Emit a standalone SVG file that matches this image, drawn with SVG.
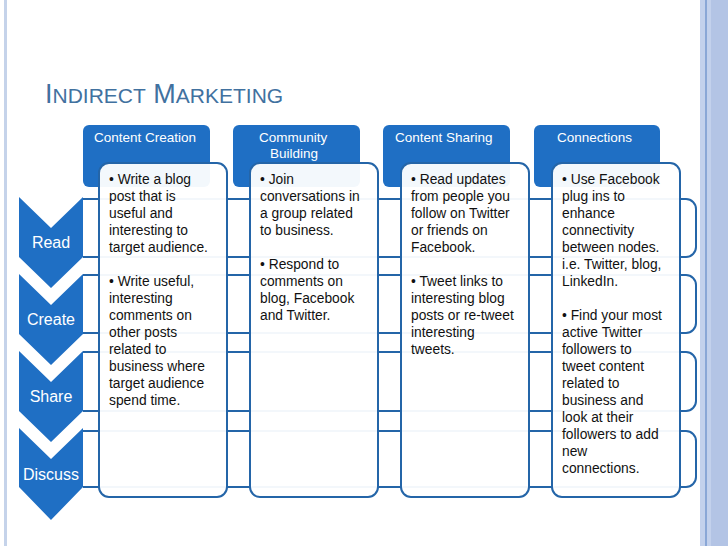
<svg xmlns="http://www.w3.org/2000/svg" width="728" height="546" viewBox="0 0 728 546">
<style>
.hdr{fill:#1f6fc4}
.ht{font-family:"Liberation Sans",Arial,sans-serif;font-size:13.5px;fill:#fff}
.row{fill:#fff;stroke:#2465a8;stroke-width:2}
.box{fill:#fff;stroke:#2465a8;stroke-width:2;fill-opacity:0.95}
.t{font-family:"Liberation Sans",Arial,sans-serif;font-size:13.8px;fill:#111}
.chev{fill:#1f6fc4}
.ct{font-family:"Liberation Sans",Arial,sans-serif;font-size:16px;fill:#fff;text-anchor:middle}
</style>
<rect width="728" height="546" fill="#fff"/>
<rect x="4" y="0" width="3" height="546" fill="#c5d3ea"/>
<rect x="700" y="0" width="28" height="546" fill="#c3d1ec"/>
<rect x="705" y="0" width="2" height="546" fill="#8aa7d6"/>
<rect x="711" y="0" width="17" height="546" fill="#b3c4e5"/>
<text x="45" y="103" font-family="'Liberation Sans',Arial,sans-serif" fill="#41719f" font-size="27">I<tspan font-size="21">NDIRECT</tspan> M<tspan font-size="21">ARKETING</tspan></text>
<g id="rows">
<path class="row" d="M83,199 H686 A10,10 0 0 1 696,209 V247 A10,10 0 0 1 686,257 H83"/>
<path class="row" d="M83,275 H686 A10,10 0 0 1 696,285 V323 A10,10 0 0 1 686,333 H83"/>
<path class="row" d="M83,352 H686 A10,10 0 0 1 696,362 V401 A10,10 0 0 1 686,411 H83"/>
<path class="row" d="M83,431 H686 A10,10 0 0 1 696,441 V477 A10,10 0 0 1 686,487 H83"/>
</g>
<g id="chevrons">
<g id="read"><path class="chev" d="M19,197 L51,228 L83,197 L83,257 L51,288 L19,257 Z"/><text class="ct" x="51" y="248">Read</text></g>
<g id="create"><path class="chev" d="M19,274 L51,305 L83,274 L83,334 L51,365 L19,334 Z"/><text class="ct" x="51" y="325">Create</text></g>
<g id="share"><path class="chev" d="M19,351 L51,382 L83,351 L83,411 L51,442 L19,411 Z"/><text class="ct" x="51" y="402">Share</text></g>
<g id="discuss"><path class="chev" d="M19,428 L51,459 L83,428 L83,487 L51,520 L19,487 Z"/><text class="ct" x="51" y="480">Discuss</text></g>
</g>
<g id="col1">
<rect class="hdr" x="83" y="125" width="127" height="62" rx="6"/>
<text class="ht" x="94" y="142">Content Creation</text>
<rect class="box" x="99" y="163" width="128" height="334" rx="10"/>
<text class="t"><tspan x="109" y="184">•  Write a blog</tspan><tspan x="109" y="201">post that is</tspan><tspan x="109" y="218">useful and</tspan><tspan x="109" y="235">interesting to</tspan><tspan x="109" y="252">target audience.</tspan><tspan x="109" y="286">•  Write useful,</tspan><tspan x="109" y="303">interesting</tspan><tspan x="109" y="320">comments on</tspan><tspan x="109" y="337">other posts</tspan><tspan x="109" y="354">related to</tspan><tspan x="109" y="371">business where</tspan><tspan x="109" y="388">target audience</tspan><tspan x="109" y="405">spend time.</tspan></text>
</g>
<g id="col2">
<rect class="hdr" x="233" y="125" width="127" height="62" rx="6"/>
<text class="ht"><tspan x="259" y="142">Community</tspan><tspan x="270" y="158">Building</tspan></text>
<rect class="box" x="250" y="163" width="128" height="334" rx="10"/>
<text class="t"><tspan x="260" y="184">•  Join</tspan><tspan x="260" y="201">conversations in</tspan><tspan x="260" y="218">a group related</tspan><tspan x="260" y="235">to business.</tspan><tspan x="260" y="269">•  Respond to</tspan><tspan x="260" y="286">comments on</tspan><tspan x="260" y="303">blog, Facebook</tspan><tspan x="260" y="320">and Twitter.</tspan></text>
</g>
<g id="col3">
<rect class="hdr" x="383" y="125" width="127" height="62" rx="6"/>
<text class="ht" x="395" y="142">Content Sharing</text>
<rect class="box" x="401" y="163" width="128" height="334" rx="10"/>
<text class="t"><tspan x="411" y="184">•  Read updates</tspan><tspan x="411" y="201">from people you</tspan><tspan x="411" y="218">follow on Twitter</tspan><tspan x="411" y="235">or friends on</tspan><tspan x="411" y="252">Facebook.</tspan><tspan x="411" y="286">•  Tweet links to</tspan><tspan x="411" y="303">interesting blog</tspan><tspan x="411" y="320">posts or re-tweet</tspan><tspan x="411" y="337">interesting</tspan><tspan x="411" y="354">tweets.</tspan></text>
</g>
<g id="col4">
<rect class="hdr" x="534" y="125" width="126" height="62" rx="6"/>
<text class="ht" x="557" y="142">Connections</text>
<rect class="box" x="552" y="163" width="128" height="334" rx="10"/>
<text class="t"><tspan x="562" y="184">•  Use Facebook</tspan><tspan x="562" y="201">plug ins to</tspan><tspan x="562" y="218">enhance</tspan><tspan x="562" y="235">connectivity</tspan><tspan x="562" y="252">between nodes.</tspan><tspan x="562" y="269">i.e. Twitter, blog,</tspan><tspan x="562" y="286">LinkedIn.</tspan><tspan x="562" y="320">•  Find your most</tspan><tspan x="562" y="337">active Twitter</tspan><tspan x="562" y="354">followers to</tspan><tspan x="562" y="371">tweet content</tspan><tspan x="562" y="388">related to</tspan><tspan x="562" y="405">business and</tspan><tspan x="562" y="422">look at their</tspan><tspan x="562" y="439">followers to add</tspan><tspan x="562" y="456">new</tspan><tspan x="562" y="473">connections.</tspan></text>
</g>
</svg>
